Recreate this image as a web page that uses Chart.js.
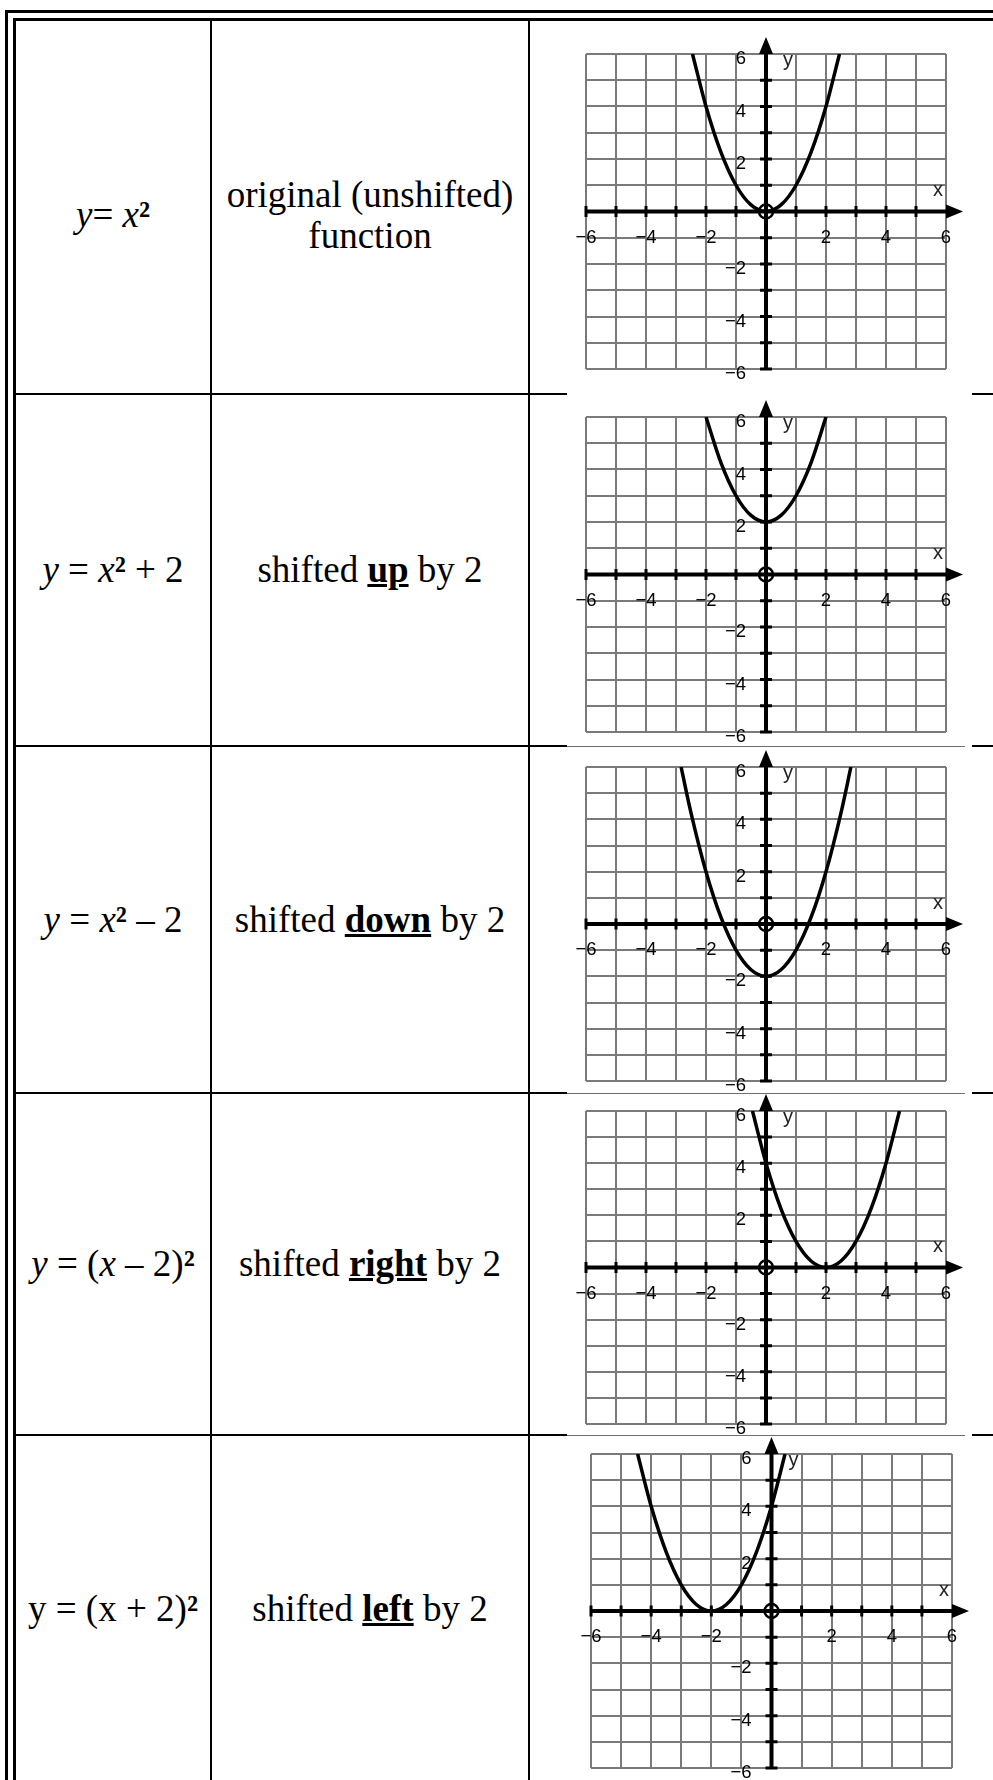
<!DOCTYPE html>
<html>
<head>
<meta charset="utf-8">
<script src="https://cdn.jsdelivr.net/npm/chart.js@4.4.0/dist/chart.umd.min.js"></script>
<style>
  html, body { margin: 0; padding: 0; background: #fff; overflow: hidden; }
  body { width: 993px; height: 1780px; position: relative; }
  .box { position: absolute; border: 3px solid #000; box-sizing: border-box; }
  .vline { position: absolute; width: 2px; background: #000; top: 21px; height: 1800px; }
  .hline { position: absolute; height: 2px; background: #000; left: 16px; width: 1000px; }
  .seam { position: absolute; height: 1px; background: #6e6e6e; left: 567px; width: 398px; z-index: 2; }
  .cell {
    position: absolute; display: flex; align-items: center; justify-content: center;
    text-align: center; font-family: "Liberation Serif", "Times New Roman", serif;
    font-size: 37px; color: #000; line-height: 1.12;
  }
  canvas { position: absolute; background: #fff; z-index: 1; }
</style>
</head>
<body>
<div class="box" style="left:5px;top:10px;width:1200px;height:1900px;"></div>
<div class="box" style="left:13px;top:18px;width:1200px;height:1900px;"></div>
<div class="vline" style="left:210px;"></div>
<div class="vline" style="left:528px;"></div>
<div class="hline" style="top:393px;"></div>
<div class="hline" style="top:745px;"></div>
<div class="hline" style="top:1092px;"></div>
<div class="hline" style="top:1434px;"></div>
<div class="seam" style="top:746px;"></div>
<div class="seam" style="top:1093px;"></div>
<div class="seam" style="top:1435px;"></div>

<div class="cell" style="left:16px;width:194px;top:29px;height:372px;"><span><i>y</i>= <i>x</i><b>²</b></span></div>
<div class="cell" style="left:212px;width:316px;top:29px;height:372px;"><span>original (unshifted)<br>function</span></div>

<div class="cell" style="left:16px;width:194px;top:395px;height:350px;"><span><i>y</i> = <i>x</i><b>²</b> + 2</span></div>
<div class="cell" style="left:212px;width:316px;top:395px;height:350px;"><span>shifted <b><u>up</u></b> by 2</span></div>

<div class="cell" style="left:16px;width:194px;top:747px;height:345px;"><span><i>y</i> = <i>x</i><b>²</b> – 2</span></div>
<div class="cell" style="left:212px;width:316px;top:747px;height:345px;"><span>shifted <b><u>down</u></b> by 2</span></div>

<div class="cell" style="left:16px;width:194px;top:1094px;height:340px;"><span><i>y</i> = (<i>x</i> – 2)<b>²</b></span></div>
<div class="cell" style="left:212px;width:316px;top:1094px;height:340px;"><span>shifted <b><u>right</u></b> by 2</span></div>

<div class="cell" style="left:16px;width:194px;top:1436px;height:346px;"><span>y = (x + 2)<b>²</b></span></div>
<div class="cell" style="left:212px;width:316px;top:1436px;height:346px;"><span>shifted <b><u>left</u></b> by 2</span></div>

<canvas id="g1"></canvas>
<canvas id="g2"></canvas>
<canvas id="g3"></canvas>
<canvas id="g4"></canvas>
<canvas id="g5"></canvas>

<script>
// y = x^2
const xs1 = [-2.45, -2, -1.5, -1, -0.5, 0, 0.5, 1, 1.5, 2, 2.45];
const ys1 = [6, 4, 2.25, 1, 0.25, 0, 0.25, 1, 2.25, 4, 6];
// y = x^2 + 2
const xs2 = [-2, -1.5, -1, -0.5, 0, 0.5, 1, 1.5, 2];
const ys2 = [6, 4.25, 3, 2.25, 2, 2.25, 3, 4.25, 6];
// y = x^2 - 2
const xs3 = [-2.83, -2.5, -2, -1.5, -1, -0.5, 0, 0.5, 1, 1.5, 2, 2.5, 2.83];
const ys3 = [6, 4.25, 2, 0.25, -1, -1.75, -2, -1.75, -1, 0.25, 2, 4.25, 6];
// y = (x - 2)^2
const xs4 = [-0.45, 0, 0.5, 1, 1.5, 2, 2.5, 3, 3.5, 4, 4.45];
const ys4 = [6, 4, 2.25, 1, 0.25, 0, 0.25, 1, 2.25, 4, 6];
// y = (x + 2)^2
const xs5 = [-4.45, -4, -3.5, -3, -2.5, -2, -1.5, -1, -0.5, 0, 0.45];
const ys5 = [6, 4, 2.25, 1, 0.25, 0, 0.25, 1, 2.25, 4, 6];

const xTickLabels = [-6, -4, -2, 2, 4, 6];
const yTickLabels = [6, 4, 2, -2, -4, -6];
const axisMin = -6;
const axisMax = 6;

const fmt = (v) => (v < 0 ? "\u2212" + Math.abs(v) : String(v));

// centred axes, arrows, tick marks and labels, placed with the chart's scales
const axesPlugin = {
  id: "axesPlugin",
  beforeDatasetsDraw(chart) {
    const { ctx, scales: { x, y } } = chart;
    const x0 = x.getPixelForValue(0);
    const y0 = y.getPixelForValue(0);
    const left = x.getPixelForValue(axisMin);
    const right = x.getPixelForValue(axisMax);
    const top = y.getPixelForValue(axisMax);
    const bottom = y.getPixelForValue(axisMin);
    ctx.save();
    ctx.strokeStyle = "#000";
    ctx.fillStyle = "#000";
    ctx.lineWidth = 4;
    ctx.beginPath();
    ctx.moveTo(left, y0);
    ctx.lineTo(right, y0);
    ctx.moveTo(x0, bottom);
    ctx.lineTo(x0, top);
    ctx.stroke();

    ctx.beginPath();
    ctx.moveTo(right + 17, y0);
    ctx.lineTo(right, y0 - 7);
    ctx.lineTo(right, y0 + 7);
    ctx.closePath();
    ctx.moveTo(x0, top - 17);
    ctx.lineTo(x0 - 7, top);
    ctx.lineTo(x0 + 7, top);
    ctx.closePath();
    ctx.fill();

    ctx.lineWidth = 3;
    ctx.beginPath();
    for (let v = axisMin; v < axisMax; v++) {
      if (v === 0) continue;
      const px = x.getPixelForValue(v);
      ctx.moveTo(px, y0 - 5.5);
      ctx.lineTo(px, y0 + 5.5);
      const py = y.getPixelForValue(v);
      ctx.moveTo(x0 - 6, py);
      ctx.lineTo(x0 + 6, py);
    }
    ctx.stroke();
    ctx.restore();
  },
  afterDatasetsDraw(chart) {
    const { ctx, scales: { x, y } } = chart;
    const x0 = x.getPixelForValue(0);
    const y0 = y.getPixelForValue(0);
    ctx.save();
    ctx.strokeStyle = "#000";
    ctx.lineWidth = 2.5;
    ctx.beginPath();
    ctx.arc(x0, y0, 7, 0, Math.PI * 2);
    ctx.stroke();

    ctx.fillStyle = "#000";
    ctx.font = '18.5px "Liberation Sans", Arial, sans-serif';
    ctx.textBaseline = "middle";
    ctx.textAlign = "center";
    xTickLabels.forEach((v) => {
      ctx.fillText(fmt(v), x.getPixelForValue(v), y0 + 26);
    });
    ctx.textAlign = "right";
    yTickLabels.forEach((v) => {
      ctx.fillText(fmt(v), x0 - 20, y.getPixelForValue(v) + 5);
    });
    ctx.fillStyle = "#222";
    ctx.font = '20px "Liberation Sans", Arial, sans-serif';
    ctx.textAlign = "center";
    ctx.fillText("x", x.getPixelForValue(axisMax) - 8, y0 - 21);
    ctx.fillText("y", x0 + 22, y.getPixelForValue(axisMax) + 6);
    ctx.restore();
  }
};

const graphs = [
  { id: "g1", xs: xs1, ys: ys1, top: 24, height: 370, pad: { top: 30, bottom: 25, left: 19, right: 26 } },
  { id: "g2", xs: xs2, ys: ys2, top: 394, height: 352, pad: { top: 23, bottom: 14, left: 19, right: 26 } },
  { id: "g3", xs: xs3, ys: ys3, top: 746, height: 347, pad: { top: 21, bottom: 12, left: 19, right: 26 } },
  { id: "g4", xs: xs4, ys: ys4, top: 1093, height: 342, pad: { top: 18, bottom: 11, left: 19, right: 26 } },
  { id: "g5", xs: xs5, ys: ys5, top: 1435, height: 345, pad: { top: 19, bottom: 12, left: 24, right: 20 } }
];

const gridOpts = {
  color: "#7a7a7a",
  lineWidth: 2,
  drawTicks: false
};

graphs.forEach((g) => {
  const canvas = document.getElementById(g.id);
  canvas.width = 405;
  canvas.height = g.height;
  canvas.style.left = "567px";
  canvas.style.top = g.top + "px";
  canvas.style.width = "405px";
  canvas.style.height = g.height + "px";

  new Chart(canvas.getContext("2d"), {
    type: "scatter",
    data: {
      datasets: [{
        data: g.xs.map((x, i) => ({ x: x, y: g.ys[i] })),
        showLine: true,
        borderColor: "#000",
        borderWidth: 3.5,
        pointRadius: 0,
        cubicInterpolationMode: "monotone",
        fill: false
      }]
    },
    options: {
      responsive: false,
      animation: false,
      layout: { padding: g.pad },
      plugins: { legend: { display: false }, tooltip: { enabled: false } },
      scales: {
        x: {
          type: "linear", min: axisMin, max: axisMax,
          ticks: { stepSize: 1, display: false },
          grid: gridOpts,
          border: { display: false }
        },
        y: {
          type: "linear", min: axisMin, max: axisMax,
          ticks: { stepSize: 1, display: false },
          grid: gridOpts,
          border: { display: false }
        }
      }
    },
    plugins: [axesPlugin]
  });
});
</script>
</body>
</html>
